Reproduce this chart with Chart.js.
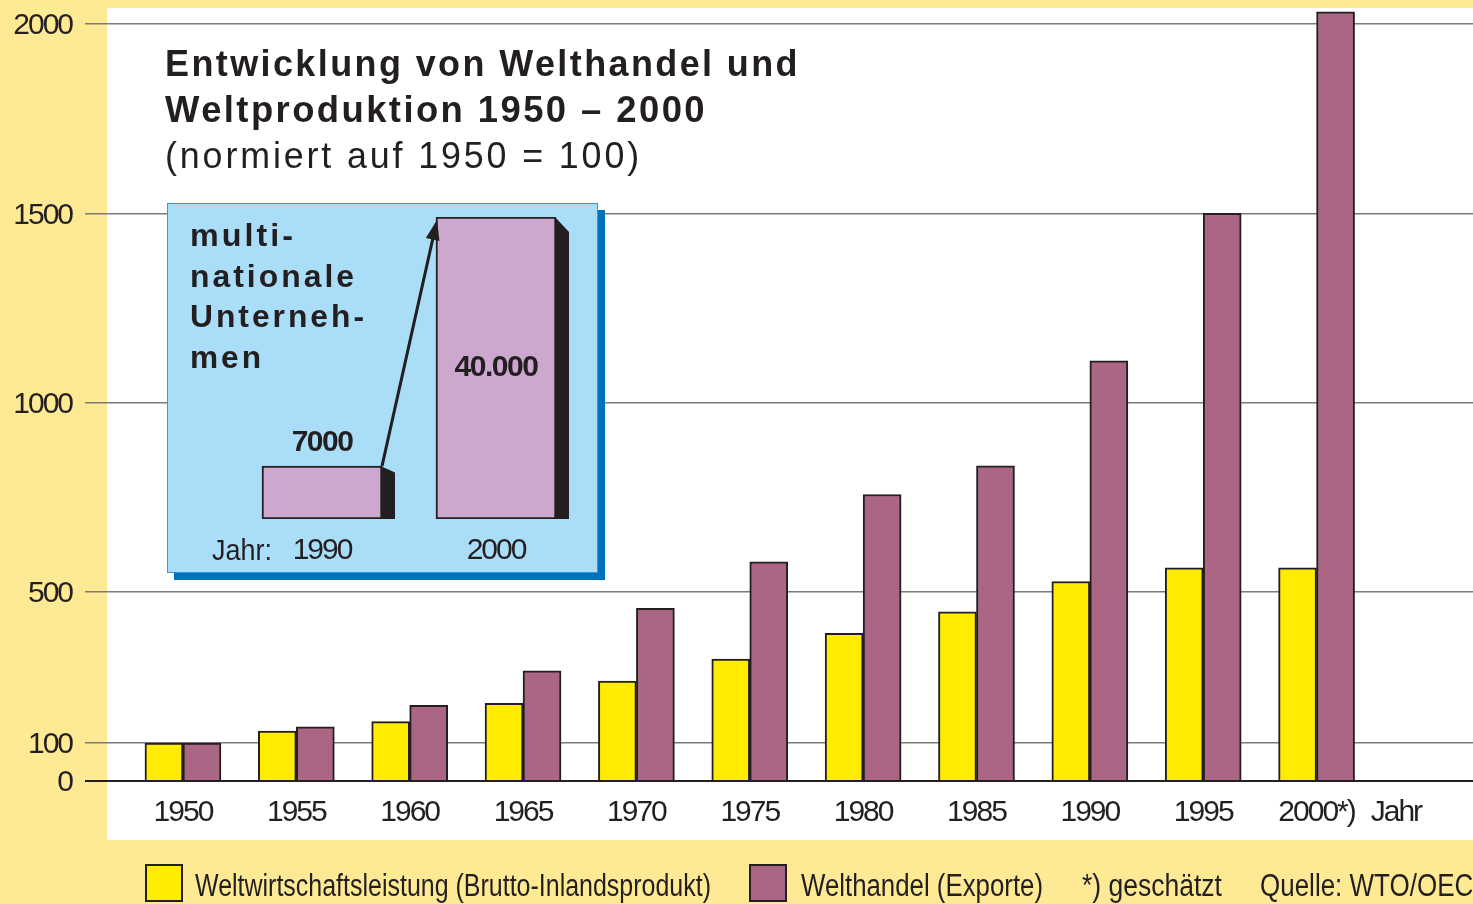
<!DOCTYPE html>
<html>
<head>
<meta charset="utf-8">
<script src="https://cdn.jsdelivr.net/npm/chart.js"></script>
<style>
  body { margin: 0; background: #FEE994; }
  #page { position: relative; width: 1473px; height: 904px; overflow: hidden; color: #231f20;
          font-family: "Liberation Sans", Arial, sans-serif; }
  #main { position: absolute; left: 0; top: 0; }
  .fit { position: absolute; white-space: nowrap; transform-origin: 0 50%; }
  .t1, .t2 { left: 165px; font-size: 36px; line-height: 46px; font-weight: bold; letter-spacing: 2.4px; }
  .t3 { left: 165px; font-size: 36px; line-height: 46px; letter-spacing: 2.9px; }
  #insetBox { position: absolute; left: 167px; top: 203px; width: 429px; height: 368px;
              background: #AADEF8; border: 1px solid #2f9ad6; box-shadow: 7px 7px 0 #0071BB; }
  #insetChart { position: absolute; left: 167px; top: 203px; }
  .insetText { left: 190px; font-weight: bold; font-size: 32px; line-height: 41px; letter-spacing: 3px; }
  .lab { font-size: 30px; line-height: 36px; }
  .box { position: absolute; top: 864px; width: 38px; height: 38px; box-sizing: border-box; border: 2px solid #231f20; }
  .leg { top: 868px; font-size: 31px; line-height: 36px; }
</style>
</head>
<body>
<div id="page">
  <canvas id="main" width="1473" height="904"></canvas>
  <div class="fit t1" style="top:41px" data-w="635">Entwicklung von Welthandel und</div>
  <div class="fit t2" style="top:87px" data-w="542">Weltproduktion 1950 – 2000</div>
  <div class="fit t3" style="top:133px" data-w="477">(normiert auf 1950 = 100)</div>
  <div id="insetBox"></div>
  <canvas id="insetChart" width="431" height="370"></canvas>
  <div class="fit insetText" style="top:215px" data-w="106">multi-</div>
  <div class="fit insetText" style="top:256px" data-w="167">nationale</div>
  <div class="fit insetText" style="top:296px" data-w="177">Unterneh-</div>
  <div class="fit insetText" style="top:337px" data-w="74">men</div>
  <div class="fit lab" style="left:212px;top:532px" data-w="60">Jahr:</div>
  <div class="box" style="left:145px;background:#FFEC00"></div>
  <div class="fit leg" style="left:195px" data-w="516">Weltwirtschaftsleistung (Brutto-Inlandsprodukt)</div>
  <div class="box" style="left:749px;background:#AB6685"></div>
  <div class="fit leg" style="left:801px" data-w="242">Welthandel (Exporte)</div>
  <div class="fit leg" style="left:1082px" data-w="140">*) geschätzt</div>
  <div class="fit leg" style="left:1260px" data-w="232">Quelle: WTO/OECD</div>
</div>

<script>
    const font = '"Liberation Sans", Arial, sans-serif';

    // main chart data
    const years = [1950, 1955, 1960, 1965, 1970, 1975, 1980, 1985, 1990, 1995, 2000];
    const productionValues = [100, 132, 157, 205, 264, 322, 390, 447, 527, 563, 563];
    const tradeValues = [100, 143, 200, 291, 456, 579, 757, 833, 1110, 1500, 2032];
    const yTicks = [0, 100, 500, 1000, 1500, 2000];
    const xTickValues = [1950, 1955, 1960, 1965, 1970, 1975, 1980, 1985, 1990, 1995, 2000, 2003.5];
    const xTickLabels = ['1950', '1955', '1960', '1965', '1970', '1975', '1980', '1985', '1990', '1995', '2000*)', 'Jahr'];

    // inset data
    const insetYears = ['1990', '2000'];
    const insetValues = [7000, 40000];
    const insetValueLabels = ['7000', '40.000'];

    // squeeze html text to the widths of the original
    document.querySelectorAll('.fit').forEach(el => {
        const w = el.getBoundingClientRect().width;
        el.style.transform = 'scaleX(' + (parseFloat(el.dataset.w) / w) + ')';
    });

    const whitePanel = {
        id: 'whitePanel',
        beforeDraw(chart) {
            const ctx = chart.ctx;
            ctx.fillStyle = '#ffffff';
            ctx.fillRect(107, 8, 1366, 832);
            // condensed look for the tick labels
            ctx.letterSpacing = '-2px';
        }
    };

    new Chart(document.getElementById('main'), {
        type: 'bar',
        data: {
            datasets: [
                {
                    label: 'Weltwirtschaftsleistung (Brutto-Inlandsprodukt)',
                    data: years.map((yr, i) => ({ x: yr, y: productionValues[i] })),
                    backgroundColor: '#FFEC00',
                    borderColor: '#231f20',
                    borderWidth: 2,
                    barThickness: 38,
                    clip: false
                },
                {
                    label: 'Welthandel (Exporte)',
                    data: years.map((yr, i) => ({ x: yr, y: tradeValues[i] })),
                    backgroundColor: '#AB6685',
                    borderColor: '#231f20',
                    borderWidth: 2,
                    barThickness: 38,
                    clip: false
                }
            ]
        },
        options: {
            responsive: false,
            animation: false,
            events: [],
            layout: { padding: { top: 24, right: 0, bottom: 0, left: 0 } },
            plugins: { legend: { display: false }, tooltip: { enabled: false } },
            scales: {
                x: {
                    type: 'linear',
                    offset: false,
                    min: 1946.65,
                    max: 2006.9,
                    afterBuildTicks: (scale) => { scale.ticks = xTickValues.map(v => ({ value: v })); },
                    afterFit: (scale) => { scale.height = 123; scale.paddingLeft = 0; scale.paddingRight = 0; },
                    grid: { display: false, drawTicks: false },
                    border: { display: false },
                    ticks: {
                        autoSkip: false,
                        maxRotation: 0,
                        padding: 14,
                        color: '#231f20',
                        font: { family: font, size: 30 },
                        callback: (value, index) => xTickLabels[index]
                    }
                },
                y: {
                    min: 0,
                    max: 2000,
                    afterBuildTicks: (scale) => { scale.ticks = yTicks.map(v => ({ value: v })); },
                    afterFit: (scale) => { scale.width = 107; scale.paddingTop = 0; scale.paddingBottom = 0; },
                    grid: {
                        color: (c) => (c.tick && c.tick.value === 0 ? '#231f20' : '#7a7a7a'),
                        lineWidth: (c) => (c.tick && c.tick.value === 0 ? 2 : 1.5),
                        tickLength: 22
                    },
                    border: { display: false },
                    ticks: {
                        padding: 13,
                        labelOffset: 2,
                        color: '#231f20',
                        font: { family: font, size: 30 },
                        callback: (value) => String(value)
                    }
                }
            }
        },
        plugins: [whitePanel]
    });

    // 3D sides, arrow and labels for the inset
    const insetDecor = {
        id: 'insetDecor',
        afterDatasetsDraw(chart) {
            const ctx = chart.ctx;
            const bars = chart.getDatasetMeta(0).data;
            ctx.save();
            ctx.fillStyle = '#231f20';
            bars.forEach(bar => {
                const right = bar.x + bar.width / 2;
                const slant = Math.min(15, (bar.base - bar.y) * 0.12);
                ctx.beginPath();
                ctx.moveTo(right - 1, bar.y);
                ctx.lineTo(right + 13, bar.y + slant);
                ctx.lineTo(right + 13, bar.base);
                ctx.lineTo(right - 1, bar.base);
                ctx.closePath();
                ctx.fill();
            });

            // arrow from small bar to tall bar
            const a = bars[0], b = bars[1];
            const x0 = a.x + a.width / 2, y0 = a.y;
            const x1 = b.x - b.width / 2 + 1, y1 = b.y + 3;
            const ang = Math.atan2(y1 - y0, x1 - x0);
            ctx.strokeStyle = '#231f20';
            ctx.lineWidth = 3;
            ctx.beginPath();
            ctx.moveTo(x0, y0);
            ctx.lineTo(x1 - 14 * Math.cos(ang), y1 - 14 * Math.sin(ang));
            ctx.stroke();
            ctx.beginPath();
            ctx.moveTo(x1, y1);
            ctx.lineTo(x1 - 20 * Math.cos(ang) + 7 * Math.sin(ang), y1 - 20 * Math.sin(ang) - 7 * Math.cos(ang));
            ctx.lineTo(x1 - 20 * Math.cos(ang) - 7 * Math.sin(ang), y1 - 20 * Math.sin(ang) + 7 * Math.cos(ang));
            ctx.closePath();
            ctx.fill();

            // value labels
            ctx.textAlign = 'center';
            ctx.textBaseline = 'middle';
            ctx.letterSpacing = '-1.5px';
            ctx.font = 'bold 30px ' + font;
            ctx.fillText(insetValueLabels[0], a.x, a.y - 23);
            ctx.fillText(insetValueLabels[1], b.x, (b.y + b.base) / 2);
            ctx.letterSpacing = '-2px';
            ctx.font = '30px ' + font;
            bars.forEach((bar, i) => ctx.fillText(insetYears[i], bar.x, bar.base + 32));
            ctx.restore();
        }
    };

    new Chart(document.getElementById('insetChart'), {
        type: 'bar',
        data: {
            labels: insetYears,
            datasets: [{
                data: insetValues,
                backgroundColor: '#CCA8CF',
                borderColor: '#231f20',
                borderWidth: 2,
                borderSkipped: false,
                barThickness: 120
            }]
        },
        options: {
            responsive: false,
            animation: false,
            events: [],
            layout: { padding: { left: 68, right: 15, top: 14, bottom: 54 } },
            plugins: { legend: { display: false }, tooltip: { enabled: false } },
            scales: {
                x: { display: false },
                y: { display: false, min: 0, max: 40000 }
            }
        },
        plugins: [insetDecor]
    });
</script>
</body>
</html>
